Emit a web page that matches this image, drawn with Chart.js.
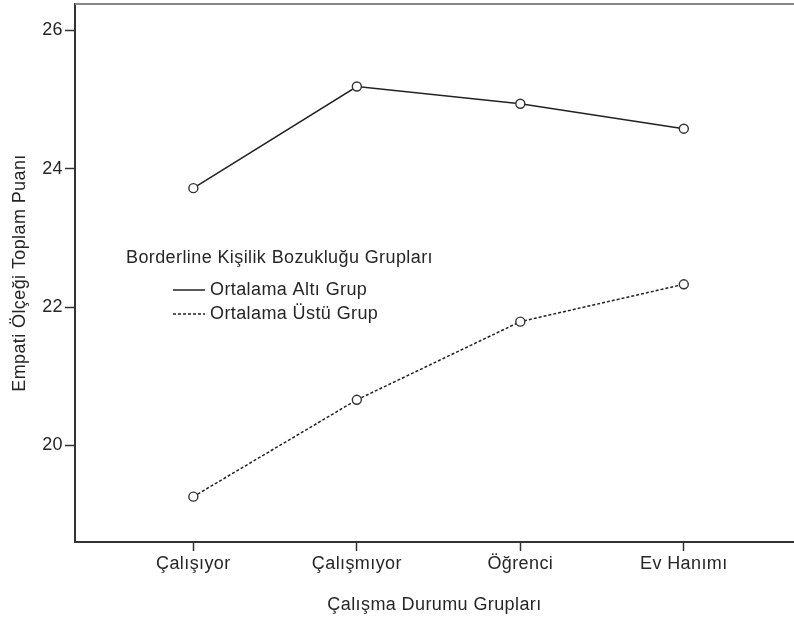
<!DOCTYPE html>
<html>
<head>
<meta charset="utf-8">
<script src="https://cdn.jsdelivr.net/npm/chart.js@4/dist/chart.umd.min.js"></script>
<style>
  body { margin: 0; background: #fff; }
  canvas { display: block; }
</style>
</head>
<body>
<canvas id="grafik" width="794" height="617"></canvas>
<script>
var kategoriler = ['Çalışıyor', 'Çalışmıyor', 'Öğrenci', 'Ev Hanımı'];
var altGrup = [23.72, 25.19, 24.94, 24.58];
var ustGrup = [19.26, 20.66, 21.79, 22.33];
var yTikler = [20, 22, 24, 26];
var gruplarBaslik = 'Borderline Kişilik Bozukluğu Grupları';
var seriAdlari = ['Ortalama Altı Grup', 'Ortalama Üstü Grup'];

function noktalar(dizi) {
    return dizi.map(function (v, i) { return { x: i, y: v }; });
}

Chart.defaults.font.family = '"Liberation Sans", Arial, sans-serif';
Chart.defaults.font.size = 18;
Chart.defaults.color = '#262626';

var harfAralik = '0.4px';

// legend inside the plot and the light top border
var icLegend = {
    id: 'icLegend',
    beforeUpdate: function (chart) { chart.ctx.letterSpacing = harfAralik; },
    beforeDraw: function (chart) { chart.ctx.letterSpacing = harfAralik; },
    afterDatasetsDraw: function (chart) {
        var c = chart.ctx;
        var alan = chart.chartArea;
        c.save();
        c.strokeStyle = '#888';
        c.lineWidth = 2;
        c.beginPath();
        c.moveTo(alan.left, alan.top);
        c.lineTo(alan.right, alan.top);
        c.stroke();

        c.fillStyle = '#262626';
        c.letterSpacing = harfAralik;
        c.font = '18px "Liberation Sans", Arial, sans-serif';
        c.textBaseline = 'middle';
        c.textAlign = 'left';
        c.fillText(gruplarBaslik, 126, 258);
        var ys = [290, 314];
        chart.data.datasets.forEach(function (ds, i) {
            c.strokeStyle = ds.borderColor;
            c.lineWidth = 1.5;
            c.setLineDash(ds.borderDash || []);
            c.beginPath();
            c.moveTo(173, ys[i]);
            c.lineTo(205, ys[i]);
            c.stroke();
            c.setLineDash([]);
            c.fillText(seriAdlari[i], 210, ys[i]);
        });
        c.restore();
    }
};

var ctx = document.getElementById('grafik').getContext('2d');
var grafik = new Chart(ctx, {
    type: 'line',
    data: {
        datasets: [{
            label: seriAdlari[0],
            data: noktalar(altGrup),
            borderColor: '#222',
            borderWidth: 1.5,
            pointRadius: 4.5,
            pointBorderWidth: 1.4,
            pointBackgroundColor: '#fff',
            pointBorderColor: '#333',
            fill: false
        }, {
            label: seriAdlari[1],
            data: noktalar(ustGrup),
            borderColor: '#222',
            borderWidth: 1.5,
            borderDash: [3, 2],
            pointRadius: 4.5,
            pointBorderWidth: 1.4,
            pointBackgroundColor: '#fff',
            pointBorderColor: '#333',
            fill: false
        }]
    },
    options: {
        responsive: false,
        animation: false,
        layout: { autoPadding: false, padding: { top: 4, right: 0, bottom: 0, left: 0 } },
        plugins: {
            legend: { display: false },
            tooltip: { enabled: false }
        },
        scales: {
            x: {
                type: 'linear',
                min: -0.724,
                max: 3.674,
                afterBuildTicks: function (ax) {
                    ax.ticks = kategoriler.map(function (k, i) { return { value: i }; });
                },
                afterFit: function (ax) {
                    ax.height = 75;
                    ax.paddingLeft = 0;
                    ax.paddingRight = 0;
                },
                ticks: {
                    callback: function (v) { return kategoriler[v]; },
                    padding: 2,
                    maxRotation: 0,
                    autoSkip: false
                },
                grid: {
                    drawOnChartArea: false,
                    tickLength: 9,
                    tickWidth: 1.5,
                    tickColor: '#333'
                },
                border: { color: '#333', width: 2 },
                title: {
                    display: true,
                    text: 'Çalışma Durumu Grupları',
                    padding: { top: 4, bottom: 1 }
                }
            },
            y: {
                min: 18.604,
                max: 26.383,
                afterBuildTicks: function (ax) {
                    ax.ticks = yTikler.map(function (v) { return { value: v }; });
                },
                afterFit: function (ax) {
                    ax.width = 75;
                    ax.paddingTop = 0;
                    ax.paddingBottom = 0;
                },
                ticks: { padding: 2 },
                grid: {
                    drawOnChartArea: false,
                    tickLength: 10,
                    tickWidth: 1.5,
                    tickColor: '#333'
                },
                border: { color: '#333', width: 2 },
                title: {
                    display: true,
                    text: 'Empati Ölçeği Toplam Puanı',
                    padding: { top: 9, bottom: 4 }
                }
            }
        }
    },
    plugins: [icLegend]
});
</script>
</body>
</html>
